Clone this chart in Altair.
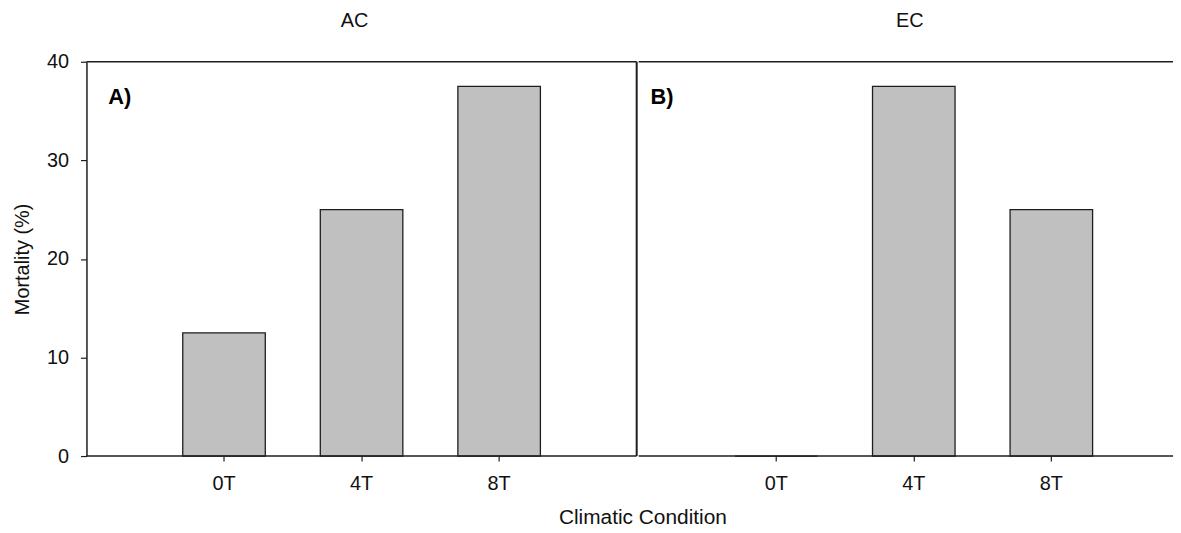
import altair as alt
import pandas as pd

# ---- data ----
conditions = ["0T", "4T", "8T"]
ac_mortality = [12.5, 25.0, 37.5]
ec_mortality = [0.0, 37.5, 25.0]
panel_titles = ["AC", "EC"]
panel_tags = ["A)", "B)"]
y_ticks = [0, 10, 20, 30, 40]

# ---- style / layout ----
W1, W2, H = 554, 550, 397
STEP = W1 / 4          # category spacing shared by both panels
PAD_INNER = 0.4
FONT = "Liberation Sans"
LINE = "#1e1e1e"
BAR_FILL = "#c0c0c0"
TXT = "#111111"
PAGE_W, PAGE_H = 1173, 517   # svg size inside the page margin

one_row = alt.Data(values=[{"k": 0}])


def band_scale(width):
    n = len(conditions)
    space = width / STEP
    pad_outer = (space - n + PAD_INNER) / 2
    first_start = STEP - STEP * (1 - PAD_INNER) / 2
    align = first_start / (width - STEP * (n - PAD_INNER))
    return alt.Scale(domain=conditions, paddingInner=PAD_INNER,
                     paddingOuter=pad_outer, align=align)


def panel(values, title, tag, width, show_y, tag_x, title_x):
    df = pd.DataFrame({"condition": conditions, "mortality": values})
    yscale = alt.Scale(domain=[0, 40], nice=False)
    if show_y:
        yaxis = alt.Axis(values=y_ticks, title="Mortality (%)", grid=False,
                         tickSize=6, labelPadding=12, titlePadding=14,
                         domain=True)
    else:
        yaxis = None
    bars = alt.Chart(df).mark_bar(
        fill=BAR_FILL, stroke=LINE, strokeWidth=1.3
    ).encode(
        x=alt.X("condition:N", scale=band_scale(width), sort=conditions,
                axis=alt.Axis(title=None, domain=False, labelAngle=0,
                              tickSize=5, labelPadding=13, grid=False)),
        y=alt.Y("mortality:Q", scale=yscale, axis=yaxis),
    )
    top = alt.Chart(one_row).mark_rule(color=LINE, strokeWidth=1.5).encode(
        x=alt.value(0), x2=alt.value(width), y=alt.value(0))
    bottom = alt.Chart(one_row).mark_rule(color=LINE, strokeWidth=1.5).encode(
        x=alt.value(0), x2=alt.value(width), y=alt.value(H))
    layers = [bars, top, bottom]
    if show_y:
        side = alt.Chart(one_row).mark_rule(color=LINE, strokeWidth=2).encode(
            x=alt.value(width), y=alt.value(0), y2=alt.value(H))
        layers.append(side)
    tag_text = alt.Chart(one_row).mark_text(
        text=tag, font=FONT, fontSize=22, fontWeight="bold", color="#000000",
        align="left", baseline="alphabetic"
    ).encode(x=alt.value(tag_x), y=alt.value(43))
    head = alt.Chart(one_row).mark_text(
        text=title, font=FONT, fontSize=20, color=TXT,
        align="center", baseline="alphabetic"
    ).encode(x=alt.value(title_x), y=alt.value(-35))
    layers += [tag_text, head]
    return alt.layer(*layers).properties(width=width, height=H)


left = panel(ac_mortality, panel_titles[0], panel_tags[0], W1, True, 22, 270)
right = panel(ec_mortality, panel_titles[1], panel_tags[1], W2, False, 12, 273)

PAD_L, PAD_T = 79, 51   # offset of the left plot area inside the svg
chart = alt.hconcat(left, right, spacing=0).properties(
    title=alt.TitleParams("Climatic Condition", orient="bottom", anchor="middle",
                          font=FONT, fontSize=21, fontWeight="normal",
                          color=TXT, offset=13, dx=44),
    autosize=alt.AutoSizeParams(type="none"),
    padding={"left": PAD_L, "top": PAD_T,
             "right": PAGE_W - PAD_L, "bottom": PAGE_H - PAD_T},
    background="white",
).configure_view(stroke=None).configure_axis(
    labelFont=FONT, labelFontSize=20, labelColor=TXT,
    titleFont=FONT, titleFontSize=20, titleFontWeight="normal", titleColor=TXT,
    tickColor=LINE, domainColor=LINE, tickWidth=1.2, domainWidth=1.5,
)

chart.save("out.html", embed_options={"renderer": "svg", "actions": False})
